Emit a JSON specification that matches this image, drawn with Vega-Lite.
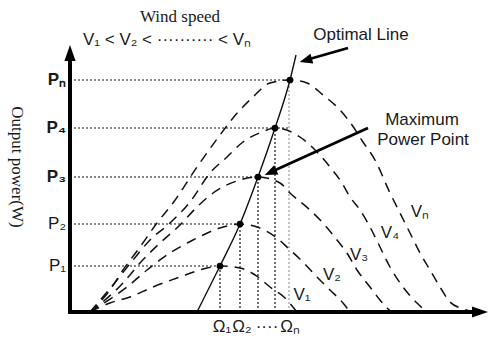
{
  "$schema": "https://vega.github.io/schema/vega-lite/v6.json",
  "width": 491,
  "height": 341,
  "padding": 0,
  "autosize": {"type": "fit", "contains": "padding"},
  "background": "white",
  "config": {"view": {"stroke": null}},
  "datasets": {
    "curves": [
      {"curve": "V1", "x": 20, "y": 0}, {"curve": "V1", "x": 40, "y": 9}, {"curve": "V1", "x": 60, "y": 15}, {"curve": "V1", "x": 83, "y": 25}, {"curve": "V1", "x": 110, "y": 35}, {"curve": "V1", "x": 137, "y": 44}, {"curve": "V1", "x": 150, "y": 46}, {"curve": "V1", "x": 170, "y": 44}, {"curve": "V1", "x": 188, "y": 35}, {"curve": "V1", "x": 200, "y": 25}, {"curve": "V1", "x": 215, "y": 14}, {"curve": "V1", "x": 227, "y": 0},
      {"curve": "V2", "x": 20, "y": 0}, {"curve": "V2", "x": 43, "y": 15}, {"curve": "V2", "x": 57, "y": 25}, {"curve": "V2", "x": 77, "y": 42}, {"curve": "V2", "x": 100, "y": 59}, {"curve": "V2", "x": 123, "y": 72}, {"curve": "V2", "x": 150, "y": 84}, {"curve": "V2", "x": 170, "y": 88}, {"curve": "V2", "x": 187, "y": 85}, {"curve": "V2", "x": 207, "y": 74}, {"curve": "V2", "x": 218, "y": 64}, {"curve": "V2", "x": 233, "y": 50}, {"curve": "V2", "x": 247, "y": 35}, {"curve": "V2", "x": 260, "y": 22}, {"curve": "V2", "x": 273, "y": 9}, {"curve": "V2", "x": 280, "y": 0},
      {"curve": "V3", "x": 20, "y": 0}, {"curve": "V3", "x": 53, "y": 29}, {"curve": "V3", "x": 70, "y": 49}, {"curve": "V3", "x": 90, "y": 69}, {"curve": "V3", "x": 110, "y": 87}, {"curve": "V3", "x": 127, "y": 105}, {"curve": "V3", "x": 143, "y": 119}, {"curve": "V3", "x": 170, "y": 132}, {"curve": "V3", "x": 188, "y": 135}, {"curve": "V3", "x": 210, "y": 129}, {"curve": "V3", "x": 220, "y": 119}, {"curve": "V3", "x": 240, "y": 102}, {"curve": "V3", "x": 253, "y": 89}, {"curve": "V3", "x": 267, "y": 72}, {"curve": "V3", "x": 277, "y": 59}, {"curve": "V3", "x": 287, "y": 42}, {"curve": "V3", "x": 300, "y": 25}, {"curve": "V3", "x": 310, "y": 12}, {"curve": "V3", "x": 317, "y": 4}, {"curve": "V3", "x": 322, "y": 0},
      {"curve": "V4", "x": 20, "y": 0}, {"curve": "V4", "x": 47, "y": 32}, {"curve": "V4", "x": 63, "y": 52}, {"curve": "V4", "x": 80, "y": 72}, {"curve": "V4", "x": 100, "y": 89}, {"curve": "V4", "x": 120, "y": 110}, {"curve": "V4", "x": 140, "y": 139}, {"curve": "V4", "x": 157, "y": 155}, {"curve": "V4", "x": 173, "y": 170}, {"curve": "V4", "x": 192, "y": 180}, {"curve": "V4", "x": 205, "y": 184}, {"curve": "V4", "x": 230, "y": 175}, {"curve": "V4", "x": 247, "y": 160}, {"curve": "V4", "x": 260, "y": 145}, {"curve": "V4", "x": 272, "y": 129}, {"curve": "V4", "x": 280, "y": 115}, {"curve": "V4", "x": 290, "y": 102}, {"curve": "V4", "x": 300, "y": 85}, {"curve": "V4", "x": 310, "y": 65}, {"curve": "V4", "x": 320, "y": 45}, {"curve": "V4", "x": 333, "y": 25}, {"curve": "V4", "x": 347, "y": 9}, {"curve": "V4", "x": 355, "y": 2}, {"curve": "V4", "x": 360, "y": 0},
      {"curve": "Vn", "x": 20, "y": 0}, {"curve": "Vn", "x": 40, "y": 22}, {"curve": "Vn", "x": 53, "y": 42}, {"curve": "Vn", "x": 70, "y": 65}, {"curve": "Vn", "x": 87, "y": 89}, {"curve": "Vn", "x": 103, "y": 109}, {"curve": "Vn", "x": 127, "y": 145}, {"curve": "Vn", "x": 150, "y": 177}, {"curve": "Vn", "x": 163, "y": 194}, {"curve": "Vn", "x": 183, "y": 215}, {"curve": "Vn", "x": 200, "y": 229}, {"curve": "Vn", "x": 220, "y": 232}, {"curve": "Vn", "x": 237, "y": 229}, {"curve": "Vn", "x": 253, "y": 217}, {"curve": "Vn", "x": 270, "y": 202}, {"curve": "Vn", "x": 282, "y": 187}, {"curve": "Vn", "x": 293, "y": 170}, {"curve": "Vn", "x": 305, "y": 152}, {"curve": "Vn", "x": 320, "y": 119}, {"curve": "Vn", "x": 330, "y": 99}, {"curve": "Vn", "x": 340, "y": 79}, {"curve": "Vn", "x": 350, "y": 59}, {"curve": "Vn", "x": 360, "y": 42}, {"curve": "Vn", "x": 370, "y": 25}, {"curve": "Vn", "x": 380, "y": 10}, {"curve": "Vn", "x": 390, "y": 4}, {"curve": "Vn", "x": 400, "y": 1}
    ],
    "optimal": [
      {"x": 127, "y": 0}, {"x": 138, "y": 22}, {"x": 150, "y": 46}, {"x": 170, "y": 88}, {"x": 188, "y": 135}, {"x": 205, "y": 184}, {"x": 220, "y": 232}, {"x": 226, "y": 257}
    ],
    "mpp": [
      {"x": 150, "y": 46}, {"x": 170, "y": 88}, {"x": 188, "y": 135}, {"x": 205, "y": 184}, {"x": 220, "y": 232}
    ],
    "guides": [
      {"level": "1", "x": 0, "y": 46, "x2": 150, "y2": 46},
      {"level": "2", "x": 0, "y": 88, "x2": 170, "y2": 88},
      {"level": "3", "x": 0, "y": 135, "x2": 188, "y2": 135},
      {"level": "4", "x": 0, "y": 184, "x2": 218, "y2": 184},
      {"level": "n", "x": 0, "y": 232, "x2": 220, "y2": 232},
      {"level": "1", "x": 150, "y": 0, "x2": 150, "y2": 46},
      {"level": "2", "x": 170, "y": 0, "x2": 170, "y2": 88},
      {"level": "3", "x": 188, "y": 0, "x2": 188, "y2": 135},
      {"level": "4", "x": 205, "y": 0, "x2": 205, "y2": 184},
      {"level": "nv", "x": 219, "y": 0, "x2": 219, "y2": 232}
    ],
    "axes": [
      {"x": 0, "y": 0, "x2": 0, "y2": 258},
      {"x": 0, "y": 0, "x2": 410, "y2": 0}
    ],
    "arrows": [
      {"x": 278, "y": 264, "x2": 236, "y2": 252},
      {"x": 298, "y": 184, "x2": 201, "y2": 140}
    ],
    "heads": [
      {"name": "yaxis", "x": 0, "y": 259},
      {"name": "xaxis", "x": 410, "y": 0},
      {"name": "optimal", "x": 235.8, "y": 251.7},
      {"name": "mpp", "x": 200.5, "y": 139.5}
    ],
    "labels": [
      {"kind": "pbold", "text": "Pₙ", "x": -4, "y": 232},
      {"kind": "pbold", "text": "P₄", "x": -4, "y": 184},
      {"kind": "pbold", "text": "P₃", "x": -4, "y": 135},
      {"kind": "p", "text": "P₂", "x": -4, "y": 88},
      {"kind": "p", "text": "P₁", "x": -4, "y": 46},
      {"kind": "center", "text": "Ω₁", "x": 152, "y": -15},
      {"kind": "center", "text": "Ω₂", "x": 172, "y": -15},
      {"kind": "center", "text": "····", "x": 197, "y": -15},
      {"kind": "center", "text": "Ωₙ", "x": 220, "y": -15},
      {"kind": "center", "text": "V₁", "x": 232, "y": 17},
      {"kind": "center", "text": "V₂", "x": 262, "y": 37},
      {"kind": "center", "text": "V₃", "x": 289, "y": 57},
      {"kind": "center", "text": "V₄", "x": 320, "y": 79},
      {"kind": "center", "text": "Vₙ", "x": 350, "y": 100},
      {"kind": "note", "text": "Optimal Line", "x": 291, "y": 272},
      {"kind": "note", "text": "Maximum", "x": 352, "y": 187},
      {"kind": "note", "text": "Power Point", "x": 353, "y": 167},
      {"kind": "speeds", "text": "V₁ < V₂ < ·········· < Vₙ", "x": 13, "y": 267},
      {"kind": "serif", "text": "Wind speed", "x": 110, "y": 290},
      {"kind": "ytitle", "text": "Output power(W)", "x": -53, "y": 145}
    ]
  },
  "encoding": {
    "x": {"field": "x", "type": "quantitative", "scale": {"domain": [-70, 421], "nice": false, "zero": false}, "axis": null},
    "y": {"field": "y", "type": "quantitative", "scale": {"domain": [-29, 312], "nice": false, "zero": false}, "axis": null}
  },
  "layer": [
    {
      "data": {"name": "guides"},
      "transform": [{"filter": "datum.level != 'nv'"}],
      "mark": {"type": "rule", "color": "#111111", "strokeWidth": 1.2, "strokeDash": [2, 2]},
      "encoding": {"x2": {"field": "x2"}, "y2": {"field": "y2"}}
    },
    {
      "data": {"name": "guides"},
      "transform": [{"filter": "datum.level == 'nv'"}],
      "mark": {"type": "rule", "color": "#9a9a9a", "strokeWidth": 1.2, "strokeDash": [2, 2]},
      "encoding": {"x2": {"field": "x2"}, "y2": {"field": "y2"}}
    },
    {
      "data": {"name": "curves"},
      "mark": {"type": "line", "color": "#111111", "strokeWidth": 1.5, "strokeDash": [10, 7], "interpolate": "monotone"},
      "encoding": {"detail": {"field": "curve"}}
    },
    {
      "data": {"name": "optimal"},
      "mark": {"type": "line", "color": "#111111", "strokeWidth": 1.4, "interpolate": "monotone"},
      "encoding": {}
    },
    {
      "data": {"name": "axes"},
      "mark": {"type": "rule", "color": "#000000", "strokeWidth": 4, "strokeCap": "square"},
      "encoding": {"x2": {"field": "x2"}, "y2": {"field": "y2"}}
    },
    {
      "data": {"name": "arrows"},
      "mark": {"type": "rule", "color": "#000000", "strokeWidth": 2.8},
      "encoding": {"x2": {"field": "x2"}, "y2": {"field": "y2"}}
    },
    {
      "data": {"name": "heads"},
      "transform": [{"filter": "datum.name == 'yaxis'"}],
      "mark": {"type": "point", "shape": "M0,-1L0.7,1L-0.7,1Z", "size": 256, "filled": true, "color": "#000000", "opacity": 1, "angle": 0}
    },
    {
      "data": {"name": "heads"},
      "transform": [{"filter": "datum.name == 'xaxis'"}],
      "mark": {"type": "point", "shape": "M0,-1L0.7,1L-0.7,1Z", "size": 256, "filled": true, "color": "#000000", "opacity": 1, "angle": 90}
    },
    {
      "data": {"name": "heads"},
      "transform": [{"filter": "datum.name == 'optimal'"}],
      "mark": {"type": "point", "shape": "M0,-1L0.8,1L-0.8,1Z", "size": 160, "filled": true, "color": "#000000", "opacity": 1, "angle": 253.7}
    },
    {
      "data": {"name": "heads"},
      "transform": [{"filter": "datum.name == 'mpp'"}],
      "mark": {"type": "point", "shape": "M0,-1L0.8,1L-0.8,1Z", "size": 160, "filled": true, "color": "#000000", "opacity": 1, "angle": 245.5}
    },
    {
      "data": {"name": "mpp"},
      "mark": {"type": "circle", "size": 45, "color": "#000000", "opacity": 1}
    },
    {
      "data": {"name": "labels"},
      "transform": [{"filter": "datum.kind == 'pbold'"}],
      "mark": {"type": "text", "font": "Liberation Sans", "fontSize": 17, "fontWeight": "bold", "align": "right", "baseline": "middle", "color": "#1a1a1a"},
      "encoding": {"text": {"field": "text"}}
    },
    {
      "data": {"name": "labels"},
      "transform": [{"filter": "datum.kind == 'p'"}],
      "mark": {"type": "text", "font": "Liberation Sans", "fontSize": 17, "align": "right", "baseline": "middle", "color": "#1a1a1a"},
      "encoding": {"text": {"field": "text"}}
    },
    {
      "data": {"name": "labels"},
      "transform": [{"filter": "datum.kind == 'center'"}],
      "mark": {"type": "text", "font": "Liberation Sans", "fontSize": 17, "align": "center", "baseline": "middle", "color": "#1a1a1a"},
      "encoding": {"text": {"field": "text"}}
    },
    {
      "data": {"name": "labels"},
      "transform": [{"filter": "datum.kind == 'note'"}],
      "mark": {"type": "text", "font": "Liberation Sans", "fontSize": 17, "align": "center", "baseline": "alphabetic", "color": "#1a1a1a"},
      "encoding": {"text": {"field": "text"}}
    },
    {
      "data": {"name": "labels"},
      "transform": [{"filter": "datum.kind == 'speeds'"}],
      "mark": {"type": "text", "font": "Liberation Sans", "fontSize": 17, "align": "left", "baseline": "alphabetic", "color": "#1a1a1a"},
      "encoding": {"text": {"field": "text"}}
    },
    {
      "data": {"name": "labels"},
      "transform": [{"filter": "datum.kind == 'serif'"}],
      "mark": {"type": "text", "font": "Liberation Serif", "fontSize": 17, "align": "center", "baseline": "alphabetic", "color": "#1a1a1a"},
      "encoding": {"text": {"field": "text"}}
    },
    {
      "data": {"name": "labels"},
      "transform": [{"filter": "datum.kind == 'ytitle'"}],
      "mark": {"type": "text", "font": "Liberation Serif", "fontSize": 17, "align": "center", "baseline": "middle", "angle": 90, "color": "#1a1a1a"},
      "encoding": {"text": {"field": "text"}}
    }
  ]
}
